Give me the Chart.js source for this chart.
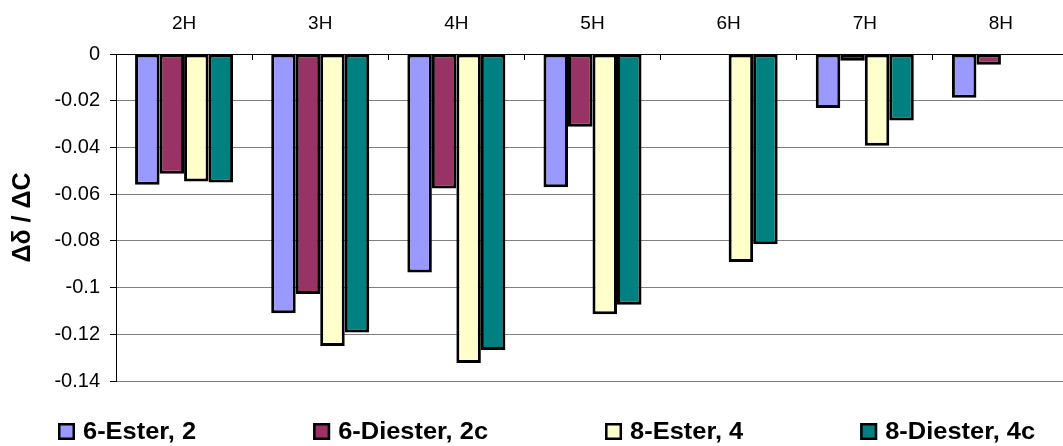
<!DOCTYPE html>
<html>
<head>
<meta charset="utf-8">
<script src="https://cdn.jsdelivr.net/npm/chart.js@4/dist/chart.umd.min.js"></script>
<style>
  html, body { margin: 0; padding: 0; background: #fff; overflow: hidden; }
  #wrap { position: relative; width: 1069px; height: 446px; }
</style>
</head>
<body>
<div id="wrap"><canvas id="chart"></canvas></div>
<script>
// Proton positions
const categories = ['2H', '3H', '4H', '5H', '6H', '7H', '8H'];

// Δδ / ΔC per compound (null = not measured)
const ester6   = [-0.0560, -0.1110, -0.0936, -0.0570, null, -0.0231, -0.0187];
const diester6 = [-0.0513, -0.1028, -0.0576, -0.0311, null, -0.0029, -0.0046];
const ester8   = [-0.0546, -0.1250, -0.1323, -0.1114, -0.0890, -0.0393, null];
const diester8 = [-0.0550, -0.1192, -0.1267, -0.1074, -0.0815, -0.0285, null];

const seriesNames = ['6-Ester, 2', '6-Diester, 2c', '8-Ester, 4', '8-Diester, 4c'];
const seriesColors = ['#9999FF', '#993366', '#FFFFCC', '#008080'];

// Value axis ticks and their labels
const yTicks = [-0.14, -0.12, -0.1, -0.08, -0.06, -0.04, -0.02, 0];
const yTickLabels = ['-0.14', '-0.12', '-0.1', '-0.08', '-0.06', '-0.04', '-0.02', '0'];

const FONT = "'Liberation Sans', Arial, sans-serif";

// Legend row along the bottom, text slightly widened
const bottomLegend = {
  id: 'bottomLegend',
  afterDraw(chart) {
    const ctx = chart.ctx;
    const stretch = 1.06;
    const box = 17, boxGap = 8, itemGap = 117;
    const boxTop = 423;
    let x = 58;
    ctx.save();
    ctx.font = 'bold 24px ' + FONT;
    ctx.textBaseline = 'middle';
    ctx.textAlign = 'left';
    chart.data.datasets.forEach(ds => {
      ctx.fillStyle = ds.backgroundColor;
      ctx.fillRect(x, boxTop, box, box);
      ctx.lineWidth = 2.5;
      ctx.strokeStyle = '#000';
      ctx.strokeRect(x + 1.25, boxTop + 1.25, box - 2.5, box - 2.5);
      const tx = x + box + boxGap;
      ctx.save();
      ctx.translate(tx, boxTop + box / 2 + 1);
      ctx.scale(stretch, 1);
      ctx.fillStyle = '#000';
      ctx.fillText(ds.label, 0, 0);
      ctx.restore();
      x = tx + ctx.measureText(ds.label).width * stretch + itemGap;
    });
    ctx.restore();
  }
};

const seriesData = [ester6, diester6, ester8, diester8];

new Chart(document.getElementById('chart'), {
  type: 'bar',
  data: {
    labels: categories,
    datasets: seriesData.map((d, i) => ({
      label: seriesNames[i],
      data: d,
      backgroundColor: seriesColors[i],
      borderColor: '#000',
      borderWidth: 3,
      borderSkipped: false,
      categoryPercentage: 0.72,
      barPercentage: 1.0
    }))
  },
  options: {
    responsive: true,
    maintainAspectRatio: false,
    animation: false,
    layout: { padding: { left: 0, right: 0, top: 0, bottom: 65 } },
    plugins: {
      legend: { display: false },
      tooltip: { enabled: false }
    },
    scales: {
      x: {
        position: 'top',
        offset: true,
        afterFit(scale) { scale.height = 54; },
        grid: {
          drawOnChartArea: false,
          drawTicks: true,
          tickLength: -6,
          tickColor: '#000',
          offset: true
        },
        border: { display: true, color: '#000', width: 1 },
        ticks: {
          color: '#000',
          padding: 25,
          font: { family: FONT, size: 19 },
          maxRotation: 0
        }
      },
      y: {
        min: -0.14,
        max: 0,
        afterFit(scale) { scale.width = 116; },
        afterBuildTicks(scale) { scale.ticks = yTicks.map(v => ({ value: v })); },
        grid: {
          color: '#808080',
          lineWidth: 1,
          drawTicks: true,
          tickLength: 6,
          tickColor: '#000'
        },
        border: { display: true, color: '#000', width: 1 },
        ticks: {
          color: '#000',
          padding: 10,
          font: { family: FONT, size: 20 },
          callback(value, index) { return yTickLabels[index]; }
        },
        title: {
          display: true,
          text: 'Δδ / ΔC',
          color: '#000',
          font: { family: FONT, size: 25, weight: 'bold' },
          padding: { top: 8, bottom: 0 }
        }
      }
    }
  },
  plugins: [bottomLegend]
});
</script>
</body>
</html>
